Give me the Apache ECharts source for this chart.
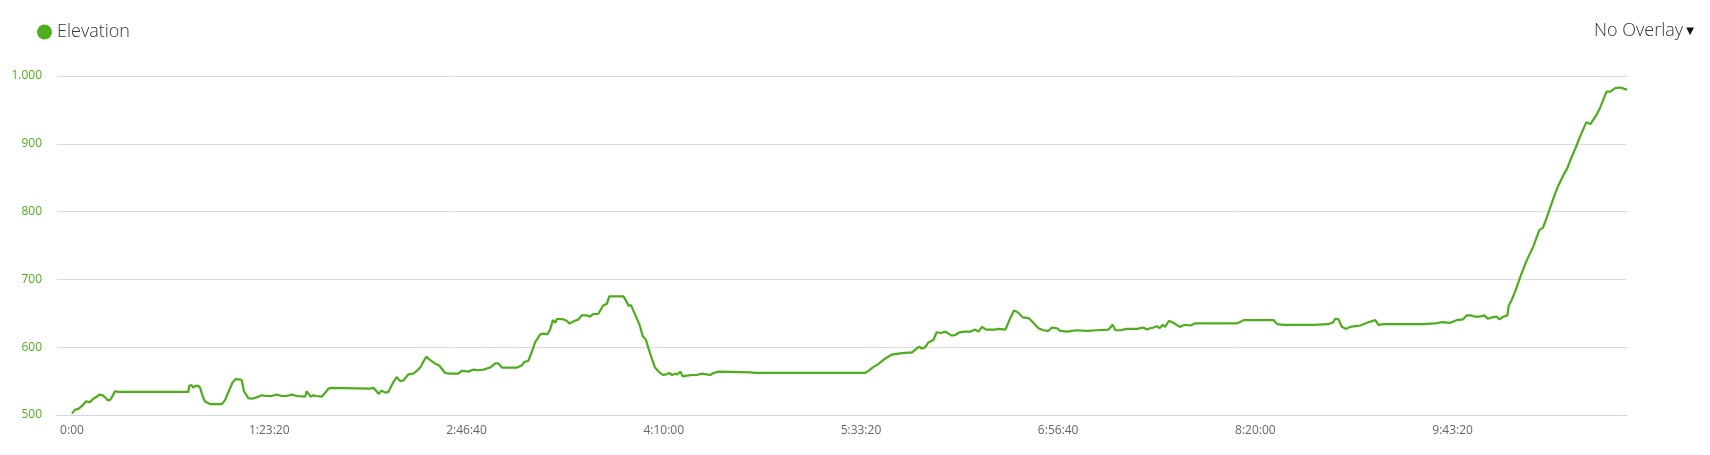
<!DOCTYPE html>
<html>
<head>
<meta charset="utf-8">
<script src="https://cdn.jsdelivr.net/npm/echarts@6/dist/echarts.min.js"></script>
<style>
html,body{margin:0;padding:0;background:#fff;}
#chart{width:1710px;height:455px;}
</style>
</head>
<body>
<div id="chart"></div>
<script>
// elapsed time in seconds
const times = [
0,80,160,250,350,460,540,630,690,780,840,900,960,1010,1050,1090,1170,1980,2950,2970,3030,3080,3120,3200,3250,3310,3370,3500,3800,3880,3960,4070,4150,4300,4360,4470,4560,4680,4810,4940,5060,5190,5320,5440,5570,5700,5910,5950,5990,6050,6120,6200,6330,6410,6500,6580,
7560,7640,7710,7770,7850,7940,8020,8150,8230,8320,8400,8530,8650,8740,8840,8910,8980,9080,9200,9310,9460,9580,9790,9880,10050,10180,10300,10430,10600,10730,10810,10900,11020,11280,11400,11460,11570,11660,11740,11870,11950,12050,12120,12190,12250,12300,12460,12540,12610,12750,12840,12920,13050,13130,13220,13340,
13460,13510,13560,13620,13980,14050,14110,14170,14230,14330,14400,14470,14550,14610,14700,14780,14890,14980,15060,15140,15210,15290,15350,15420,15480,15590,15710,15840,15970,16080,16180,16260,16390,17190,17320,20110,20190,20320,
20440,20610,20780,20990,21200,21290,21370,21480,21540,21630,21710,21840,21920,22030,22140,22300,22390,22500,22640,22770,22900,22980,23070,23170,23400,23490,23660,23700,23780,23880,23990,24100,24250,24370,24500,24630,24750,24840,24970,25050,25220,25470,25730,25980,26280,26380,26450,26570,26740,27000,
27160,27250,27330,27420,27500,27570,27650,27710,27810,27920,28080,28220,28350,28470,28770,29110,29530,29610,29700,30460,30550,30710,31140,31470,31850,31980,32020,32110,32190,32300,32400,32530,32660,32830,33040,33120,33250,33500,33760,34010,
34260,34560,34730,34940,35110,35260,35360,35460,35570,35680,35800,35890,36000,36110,36190,36280,36390,36420,36500,36610,36710,36870,37040,37200,37290,37390,37520,37660,37800,37900,38000,38110,38240,38390,38490,38620,38730,38900,39000,39120,39270,39350,39420
];
// elevation in metres
const elevation = [
502,508,509,513,520,519,524,527,530,529,526,522,522,526,525,535,534,534,534,543,544,540,543,543,540,528,520,516,516,522,533,548,553,552,535,525,524,526,529,528,528,530,528,528,530,528,527,535,532,527,529,528,527,532,539,540,
539,540,536,531,536,533,534,549,556,550,551,560,561,565,571,579,586,581,576,573,562,561,561,565,564,567,566,567,570,576,576,570,570,570,573,578,580,594,607,619,620,619,626,640,636,642,641,639,635,639,641,647,647,645,649,649,
661,660,664,675,675,668,661,662,654,641,631,616,611,599,583,570,563,559,560,562,559,561,560,564,557,558,559,559,561,560,559,562,564,563,562,562,565,571,
575,583,589,591,592,592,596,601,598,600,607,611,622,621,623,617,618,622,623,623,626,623,630,626,626,627,626,631,642,654,651,644,643,636,628,625,624,629,628,624,623,625,624,625,626,633,625,625,627,627,
629,626,628,629,631,628,633,630,639,636,630,633,632,635,635,635,635,637,640,640,634,633,633,633,634,637,642,641,630,627,630,631,632,636,640,633,634,634,634,634,
634,635,637,636,640,641,647,647,645,645,647,642,644,645,641,645,647,661,670,686,703,727,748,773,776,792,814,836,853,863,878,893,912,932,929,940,952,977,977,982,983,981,980
];
const xTicks = [0,5000,10000,15000,20000,25000,30000,35000];
const yTicks = [500,600,700,800,900,1000];
const seriesName = 'Elevation';
const overlayLabel = 'No Overlay';

const GREEN = '#4fac1c';

function fmtTime(s){
  const h = Math.floor(s/3600), m = Math.floor((s%3600)/60), sec = Math.round(s%60);
  const p = n => (n<10?'0':'')+n;
  return h>0 ? h+':'+p(m)+':'+p(sec) : m+':'+p(sec);
}
function fmtElev(v){
  return v>=1000 ? Math.floor(v/1000)+'.'+String(v%1000).padStart(3,'0') : String(v);
}

const data = times.map((t,i)=>[t, elevation[i]]);
const chart = echarts.init(document.getElementById('chart'), null, {renderer:'canvas'});
chart.setOption({
  animation:false,
  textStyle:{fontFamily:'"Open Sans", sans-serif'},
  legend:{
    left:37, top:23, padding:0, icon:'circle', itemWidth:15, itemHeight:15, itemGap:6,
    data:[seriesName],
    textStyle:{fontSize:18, color:'#333', fontWeight:300, fontFamily:'"Open Sans", sans-serif'}
  },
  graphic:[{
    type:'text', x:1594, y:31,
    style:{
      text:'{a|'+overlayLabel+'}{b| \u25BC}', verticalAlign:'middle', align:'left',
      rich:{
        a:{fontSize:18, fill:'#333', fontWeight:300, fontFamily:'"Open Sans", sans-serif'},
        b:{fontSize:10, fill:'#111', fontFamily:'"DejaVu Sans", sans-serif'}
      }
    }
  }],
  grid:{left:57, right:83, top:76, bottom:40, containLabel:false},
  xAxis:{
    type:'value', min:-380, max:39420,
    axisLine:{show:true, lineStyle:{color:'#ccd6eb', width:1}},
    axisTick:{show:false},
    splitLine:{show:false},
    axisLabel:{customValues:xTicks, formatter:fmtTime, color:'#666', fontSize:12, margin:10, fontFamily:'"Open Sans", sans-serif'}
  },
  yAxis:{
    type:'value', min:yTicks[0], max:yTicks[yTicks.length-1], interval:100,
    axisLine:{show:false}, axisTick:{show:false},
    splitLine:{show:true, lineStyle:{color:'#dcdcdc', width:1}},
    axisLabel:{formatter:fmtElev, color:GREEN, fontSize:12, margin:15, fontFamily:'"Open Sans", sans-serif'}
  },
  series:[{
    name:seriesName, type:'line', data:data, showSymbol:false, symbol:'circle',
    itemStyle:{color:GREEN},
    lineStyle:{color:GREEN, width:2.2}
  }]
});
</script>
</body>
</html>
